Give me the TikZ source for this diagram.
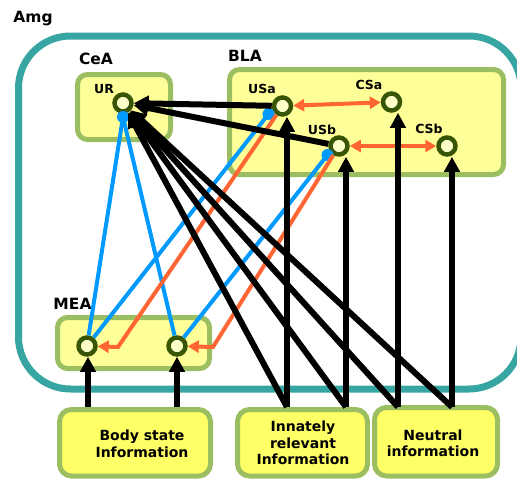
\documentclass[tikz,border=0pt]{standalone}
\usepackage{fontspec}
\setmainfont{DejaVu Sans}
\usetikzlibrary{arrows.meta,positioning}
\definecolor{amgteal}{RGB}{55,166,163}
\definecolor{boxgreen}{RGB}{155,190,96}
\definecolor{paleyellow}{RGB}{255,255,153}
\definecolor{inputyellow}{RGB}{255,255,102}
\definecolor{cellgreen}{RGB}{55,85,5}
\definecolor{cellfill}{RGB}{255,255,204}
\definecolor{csorange}{RGB}{255,102,51}
\definecolor{usblue}{RGB}{0,153,255}

\begin{document}
\begin{tikzpicture}[x=1pt, y=-1pt,
  region/.style={draw=boxgreen, line width=5pt, fill=paleyellow, rounded corners=10pt, inner sep=0pt},
  inputbox/.style={draw=boxgreen, line width=5pt, fill=inputyellow, rounded corners=12pt, inner sep=0pt},
  cell/.style={circle, draw=cellgreen, line width=4.5pt, fill=cellfill, minimum size=17pt, inner sep=0pt},
  bluedot/.style={circle, fill=usblue, minimum size=12pt, inner sep=0pt},
  area/.style={font=\bfseries\fontsize{15.5}{18}\selectfont, inner sep=0pt},
  celltag/.style={font=\bfseries\fontsize{12.5}{14}\selectfont, inner sep=0pt},
  inputtext/.style={font=\bfseries\fontsize{14}{16.5}\selectfont, align=center, inner sep=0pt},
  drive/.style={-{Triangle[length=15pt, width=15pt]}, line width=6pt},
  pairing/.style={{Triangle[length=11pt, width=12pt]}-{Triangle[length=11pt, width=12pt]}, csorange, line width=4pt},
  teach/.style={-{Triangle[length=11pt, width=12pt]}, csorange, line width=4pt},
  relay/.style={usblue, line width=4pt}
]
  \useasboundingbox (0,0) rectangle (517,479);
  \clip (0,0) rectangle (517,479);

  % amygdala outline
  \draw[amgteal, line width=7pt, rounded corners=52pt] (18.5,36) rectangle (521,389);
  \node[area] (amg) at (33,18.5) {Amg};

  % nuclei
  \node[region, minimum width=93pt, minimum height=65pt] (cea) at (124,107) {};
  \node[region, minimum width=274pt, minimum height=105pt] (bla) at (366.5,122) {};
  \node[region, minimum width=152pt, minimum height=51pt] (mea) at (133.5,343) {};
  \node[area] (ceatag) at (96,58.5) {CeA};
  \node[area] (blatag) at (245,56) {BLA};
  \node[area] (meatag) at (72.5,303.5) {MEA};

  % inputs
  \node[inputbox, minimum width=151pt, minimum height=66.5pt] (body) at (135,442.75) {};
  \node[inputbox, minimum width=130pt, minimum height=66.5pt] (innate) at (302.5,442.75) {};
  \node[inputbox, minimum width=123pt, minimum height=68.5pt] (neutral) at (436,441.75) {};
  \node[inputtext] (bodytext) at (142,444) {Body state\\Information};
  \node[inputtext] (innatetext) at (303,443) {Innately\\relevant\\Information};
  \node[inputtext] (neutraltext) at (433,443.5) {Neutral\\information};

  % cells
  \node[cell] (UR) at (123,103) {};
  \node[cell] (USa) at (282.5,106) {};
  \node[cell] (CSa) at (391.5,102) {};
  \node[cell] (USb) at (339,146) {};
  \node[cell] (CSb) at (447,146) {};
  \node[cell] (MEA1) at (87,346) {};
  \node[cell] (MEA2) at (177,346) {};
  \node[celltag] at (104,89) {UR};
  \node[celltag] at (262,89) {USa};
  \node[celltag] at (369,85) {CSa};
  \node[celltag] at (322,129.5) {USb};
  \node[celltag] at (429,128.5) {CSb};
  \node[bluedot] (URdot) at (123,117) {};
  \node[bluedot] (USadot) at (268.5,114) {};
  \node[bluedot] (USbdot) at (327.5,155) {};

  % input ports and bends
  \coordinate (bodyA) at (88,407);
  \coordinate (bodyB) at (177,407);
  \coordinate (inA) at (287,407);
  \coordinate (inB) at (346,407);
  \coordinate (inC) at (398,407);
  \coordinate (inD) at (452,407);
  \coordinate (bendA) at (118,347);
  \coordinate (bendB) at (213,347);

  % blue links
  \draw[relay] (URdot.center) -- (MEA1);
  \draw[relay] (URdot.center) -- (MEA2);
  \draw[relay] (USadot.center) -- (MEA1);
  \draw[relay] (USbdot.center) -- (MEA2);

  % orange links
  \draw[teach] (USa) -- (bendA) -- (MEA1);
  \draw[teach] (USb) -- (bendB) -- (MEA2);
  \draw[pairing] (USa) -- (CSa);
  \draw[pairing] (USb) -- (CSb);

  % black drives
  \draw[drive] (USa) -- (UR);
  \draw[drive] (USb) -- (UR);
  \foreach \p in {inA,inB,inC,inD}
    \draw[drive] (\p) -- (UR);
  \draw[drive] (inA) -- (inA |- USa.south);
  \draw[drive] (inB) -- (inB |- USb.south);
  \draw[drive] (inC) -- (inC |- CSa.south);
  \draw[drive] (inD) -- (inD |- CSb.south);
  \draw[drive] (bodyA) -- (bodyA |- MEA1.south);
  \draw[drive] (bodyB) -- (bodyB |- MEA2.south);
\end{tikzpicture}
\end{document}
